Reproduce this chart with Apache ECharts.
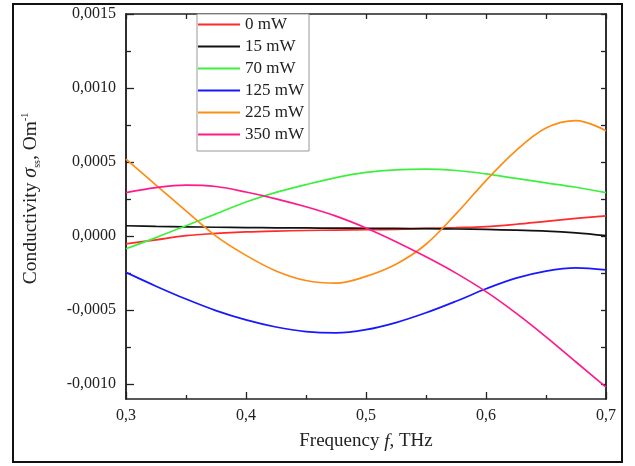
<!DOCTYPE html>
<html>
<head>
<meta charset="utf-8">
<script src="https://cdn.jsdelivr.net/npm/echarts@6/dist/echarts.min.js"></script>
<style>
html, body { margin: 0; padding: 0; background: #fff; }
#chart { width: 635px; height: 466px; }
</style>
</head>
<body>
<div id="chart"></div>
<script>
// frequency, THz
const freq = [0.3, 0.325, 0.35, 0.375, 0.4, 0.425, 0.45, 0.475, 0.5,
              0.525, 0.55, 0.575, 0.6, 0.625, 0.65, 0.675, 0.7];

const seriesNames = ['0 mW', '15 mW', '70 mW', '125 mW', '225 mW', '350 mW'];
const seriesColors = ['#ff2a2a', '#111111', '#3ef03e', '#1818ff', '#ff8c14', '#ff1a8c'];

// conductivity, Om^-1
const p0 = [-0.000053, -0.000025, 0.000003, 0.000018, 0.000028, 0.000034, 0.000038, 0.000041, 0.000043,
            0.000046, 0.000052, 0.000057, 0.000064, 0.00008, 0.0001, 0.00012, 0.000137];
const p15 = [0.00007, 0.000066, 0.000063, 0.00006, 0.000058, 0.000056, 0.000055, 0.000054, 0.000053,
             0.000052, 0.00005, 0.000048, 0.000045, 0.00004, 0.000034, 0.000022, 0.000003];
const p70 = [-0.000085, -0.00001, 0.00007, 0.00015, 0.00023, 0.000295, 0.000348, 0.000395, 0.00043,
             0.000448, 0.000452, 0.000443, 0.00042, 0.00039, 0.00036, 0.00033, 0.000294];
const p125 = [-0.000245, -0.000338, -0.000425, -0.000503, -0.000566, -0.000614, -0.000645, -0.000654, -0.000632,
              -0.000584, -0.000518, -0.00044, -0.000356, -0.000284, -0.000236, -0.000214, -0.000228];
const p225 = [0.00052, 0.000345, 0.00017, 0.0, -0.00013, -0.000235, -0.0003, -0.000318, -0.000272,
              -0.00019, -0.000055, 0.00015, 0.000375, 0.000578, 0.00073, 0.00078, 0.000712];
const p350 = [0.000294, 0.000328, 0.000345, 0.000335, 0.000298, 0.000252, 0.000198, 0.000135, 0.000055,
              -0.000038, -0.00014, -0.00025, -0.000375, -0.00052, -0.00068, -0.00085, -0.00102];

const yMajor = [-0.001, -0.0005, 0, 0.0005, 0.001, 0.0015];
const yMinor = [-0.00075, -0.00025, 0.00025, 0.00075, 0.00125];

const allValues = [p0, p15, p70, p125, p225, p350];

const font = 'Liberation Serif';
const yMin = -0.0011, yMax = 0.0015;

const chart = echarts.init(document.getElementById('chart'));

const xBase = {
    type: 'value', min: 0.3, max: 0.7, interval: 0.1,
    axisLine: { show: true, onZero: false, lineStyle: { color: '#222', width: 1.5 } },
    splitLine: { show: false },
    minorTick: { show: true, splitNumber: 2, length: 4, lineStyle: { color: '#222', width: 1.3 } },
    axisTick: { show: true, inside: true, length: 7, lineStyle: { color: '#222', width: 1.3 } }
};

function yAxisDef(pos, ticks, len, withLabels) {
    return {
        type: 'value', position: pos, min: yMin, max: yMax,
        axisLine: { show: true, onZero: false, lineStyle: { color: '#222', width: 1.5 } },
        splitLine: { show: false },
        axisTick: { show: true, inside: true, length: len, customValues: ticks,
                    lineStyle: { color: '#222', width: 1.3 } },
        axisLabel: withLabels ? {
            show: true, customValues: ticks, margin: 10,
            fontFamily: font, fontSize: 16, color: '#222',
            formatter: v => v.toFixed(4).replace('.', ',')
        } : { show: false }
    };
}

const option = {
    animation: false,
    backgroundColor: '#fff',
    grid: { left: 126, right: 29, top: 14, bottom: 67 },
    graphic: [{
        type: 'rect',
        shape: { x: 13, y: 4, width: 609, height: 458 },
        style: { fill: 'none', stroke: '#111', lineWidth: 2 },
        silent: true
    }],
    legend: {
        orient: 'vertical', left: 197, top: 14,
        data: seriesNames,
        icon: 'rect', itemWidth: 42, itemHeight: 2, itemGap: 5,
        padding: [2, 5, 8, 1],
        backgroundColor: '#fff', borderColor: '#999', borderWidth: 1,
        textStyle: { fontFamily: font, fontSize: 17, lineHeight: 17, color: '#222' }
    },
    xAxis: [
        Object.assign({}, xBase, {
            position: 'bottom',
            axisLabel: {
                margin: 9, fontFamily: font, fontSize: 16, color: '#222',
                formatter: v => v.toFixed(1).replace('.', ',')
            },
            name: '{n|Frequency }{i|f}{n|, THz}',
            nameLocation: 'middle', nameGap: 33,
            nameTextStyle: {
                rich: {
                    n: { fontFamily: font, fontSize: 19, color: '#222' },
                    i: { fontFamily: font, fontSize: 19, fontStyle: 'italic', color: '#222' }
                }
            }
        }),
        Object.assign({}, xBase, {
            position: 'top',
            axisLabel: { show: false },
            axisTick: { show: true, inside: true, length: 5, lineStyle: { color: '#222', width: 1.3 } },
            minorTick: { show: true, splitNumber: 2, length: 5, lineStyle: { color: '#222', width: 1.3 } }
        })
    ],
    yAxis: [
        Object.assign(yAxisDef('left', yMajor, 8, true), {
            name: '{n|Conductivity }{i|σ}{sub|ss}{n|, Om}{sup|-1}',
            nameLocation: 'middle', nameGap: 84,
            nameTextStyle: {
                padding: [0, 0, 0, 16],
                rich: {
                    n: { fontFamily: font, fontSize: 19.5, color: '#222', lineHeight: 22 },
                    i: { fontFamily: font, fontSize: 20, fontStyle: 'italic', color: '#222', lineHeight: 22 },
                    sub: { fontFamily: font, fontSize: 10, color: '#222', verticalAlign: 'bottom', lineHeight: 22 },
                    sup: { fontFamily: font, fontSize: 10, color: '#222', verticalAlign: 'top', lineHeight: 22 }
                }
            }
        }),
        yAxisDef('left', yMinor, 5, false),
        yAxisDef('right', yMajor, 5, false),
        yAxisDef('right', yMinor, 5, false)
    ],
    series: seriesNames.map((name, k) => ({
        name: name,
        type: 'line',
        xAxisIndex: 0,
        yAxisIndex: 0,
        symbol: 'none',
        smooth: 0.35,
        lineStyle: { color: seriesColors[k], width: 1.7 },
        itemStyle: { color: seriesColors[k] },
        data: freq.map((f, i) => [f, allValues[k][i]])
    }))
};

chart.setOption(option);
</script>
</body>
</html>
